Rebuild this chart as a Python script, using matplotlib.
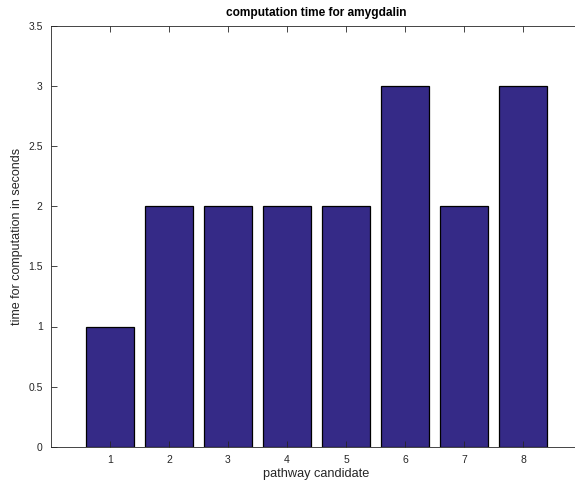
import matplotlib
matplotlib.use("Agg")
import matplotlib.pyplot as plt

candidates = [1, 2, 3, 4, 5, 6, 7, 8]
times = [1, 2, 2, 2, 2, 3, 2, 3]
yticks = [0, 0.5, 1, 1.5, 2, 2.5, 3, 3.5]
ytick_labels = ["0", "0.5", "1", "1.5", "2", "2.5", "3", "3.5"]

plt.rcParams["font.family"] = ["Liberation Sans", "DejaVu Sans"]

fig = plt.figure(figsize=(5.75, 4.87), dpi=100)
ax = fig.add_axes([51 / 575, 40.3 / 487, 531 / 575, 420.7 / 487])

ax.bar(candidates, times, width=0.8, color="#352A87", edgecolor="black", linewidth=0.9)

ax.set_xlim(0, 9)
ax.set_ylim(0, 3.5)
ax.set_xticks(candidates)
ax.set_yticks(yticks)
ax.set_yticklabels(ytick_labels)
ax.tick_params(axis="both", direction="in", length=4, width=0.6, color="#262626",
               labelsize=7.5, labelcolor="#262626", top=True, right=True, pad=6)
for s in ax.spines.values():
    s.set_color("#262626")
    s.set_linewidth(0.6)

ax.set_title("computation time for amygdalin", fontsize=8.6, fontweight="bold", pad=7)
ax.set_xlabel("pathway candidate", fontsize=9.2, color="#262626", labelpad=2)
ax.set_ylabel("time for computation in seconds", fontsize=9, color="#262626", labelpad=4)

fig.savefig("out.png", dpi=100)
